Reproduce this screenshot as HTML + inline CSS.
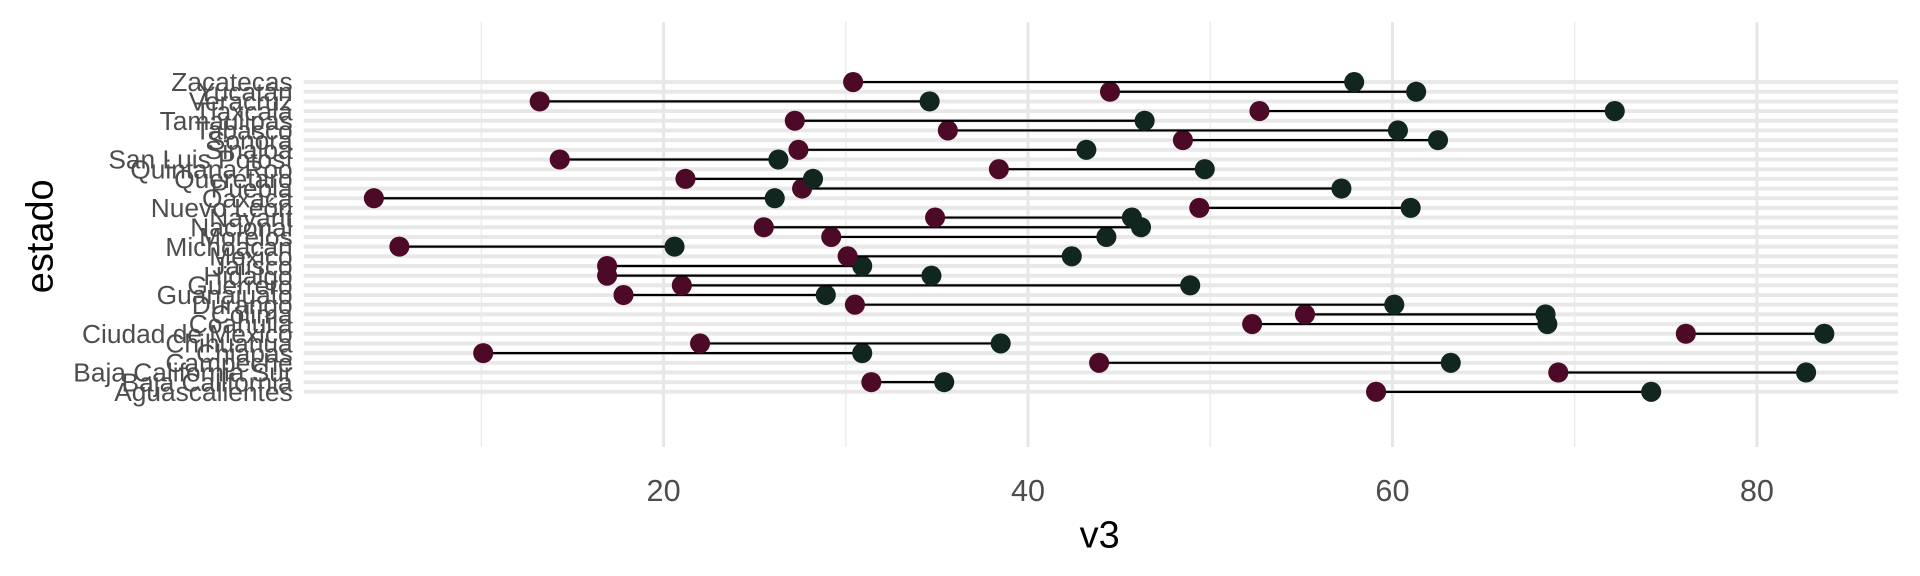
<!DOCTYPE html>
<html><head><meta charset="utf-8"><style>
html,body{margin:0;padding:0;background:#fff;}
svg{display:block;}
text{font-family:"Liberation Sans",Arial,sans-serif;}
</style></head><body>
<svg id="chart" width="1920" height="576" viewBox="0 0 1567.9 470.4" preserveAspectRatio="none" xmlns="http://www.w3.org/2000/svg">
<g id="grid"></g>
<g id="ylabels"></g>
<g id="marks"></g>
<g id="xlabels"></g>
<text x="898" y="447" font-size="31" text-anchor="middle" fill="#000">v3</text>
<text transform="translate(43,193) rotate(-90)" font-size="31" text-anchor="middle" fill="#000">estado</text>
</svg>
<script>
const categories = ["Aguascalientes","Baja California","Baja California Sur","Campeche","Chiapas","Chihuahua","Ciudad de Mexico","Coahuila","Colima","Durango","Guanajuato","Guerrero","Hidalgo","Jalisco","Mexico","Michoacan","Morelos","Nacional","Nayarit","Nuevo León","Oaxaca","Puebla","Querétaro","Quintana Roo","San Luis Potosí","Sinaloa","Sonora","Tabasco","Tamaulipas","Tlaxcala","Veracruz","Yucatán","Zacatecas"];
const startValues = [59.1,31.4,69.1,43.9,10.1,22.0,76.1,52.3,55.2,30.5,17.8,21.0,16.9,16.9,30.1,5.5,29.2,25.5,34.9,49.4,4.1,27.6,21.2,38.4,14.3,27.4,48.5,35.6,27.2,52.7,13.2,44.5,30.4];
const endValues = [74.2,35.4,82.7,63.2,30.9,38.5,83.7,68.5,68.4,60.1,28.9,48.9,34.7,30.9,42.4,20.6,44.3,46.2,45.7,61.0,26.1,57.2,28.2,49.7,26.3,43.2,62.5,60.3,46.4,72.2,34.6,61.3,57.9];
const xTicks = [20,40,60,80];
const xMinor = [10,30,50,70];

const NS="http://www.w3.org/2000/svg";
const px0=248, px1=1550, py0=18, py1=365;
function xs(v){return 244.3+14.88*v;}
function ys(i){return 320-i*((320-67)/(categories.length-1));}
function mk(tag,attrs,parent){const e=document.createElementNS(NS,tag);for(const k in attrs)e.setAttribute(k,attrs[k]);parent.appendChild(e);return e;}
const grid=document.getElementById('grid'), yl=document.getElementById('ylabels'), marks=document.getElementById('marks'), xl=document.getElementById('xlabels');
xMinor.forEach(v=>{const l=mk('line',{x1:xs(v),x2:xs(v),y1:py0,y2:py1,stroke:'#ececec','stroke-width':1.2},grid);

});
xTicks.forEach(v=>{const l=mk('line',{x1:xs(v),x2:xs(v),y1:py0,y2:py1,stroke:'#e6e6e6','stroke-width':2.4},grid);


const t=mk('text',{x:xs(v),y:409,'font-size':25,'text-anchor':'middle',fill:'#4d4d4d'},xl);t.textContent=v;

});
categories.forEach((c,i)=>{const y=ys(i);
const g=mk('line',{x1:px0,x2:px1,y1:y,y2:y,stroke:'#e8e8e8','stroke-width':3.2},grid);


const t=mk('text',{x:239,y:y+7.5,'font-size':21.5,'text-anchor':'end',fill:'#4d4d4d'},yl);t.textContent=c;


const s=mk('line',{x1:xs(startValues[i]),x2:xs(endValues[i]),y1:y,y2:y,stroke:'#000','stroke-width':1.8},marks);


const a=mk('ellipse',{cx:xs(startValues[i]),cy:y,rx:8.2,ry:8.2,fill:'#4d0a28'},marks);


const b=mk('ellipse',{cx:xs(endValues[i]),cy:y,rx:8.2,ry:8.2,fill:'#10261f'},marks);


});
</script>
</body></html>
